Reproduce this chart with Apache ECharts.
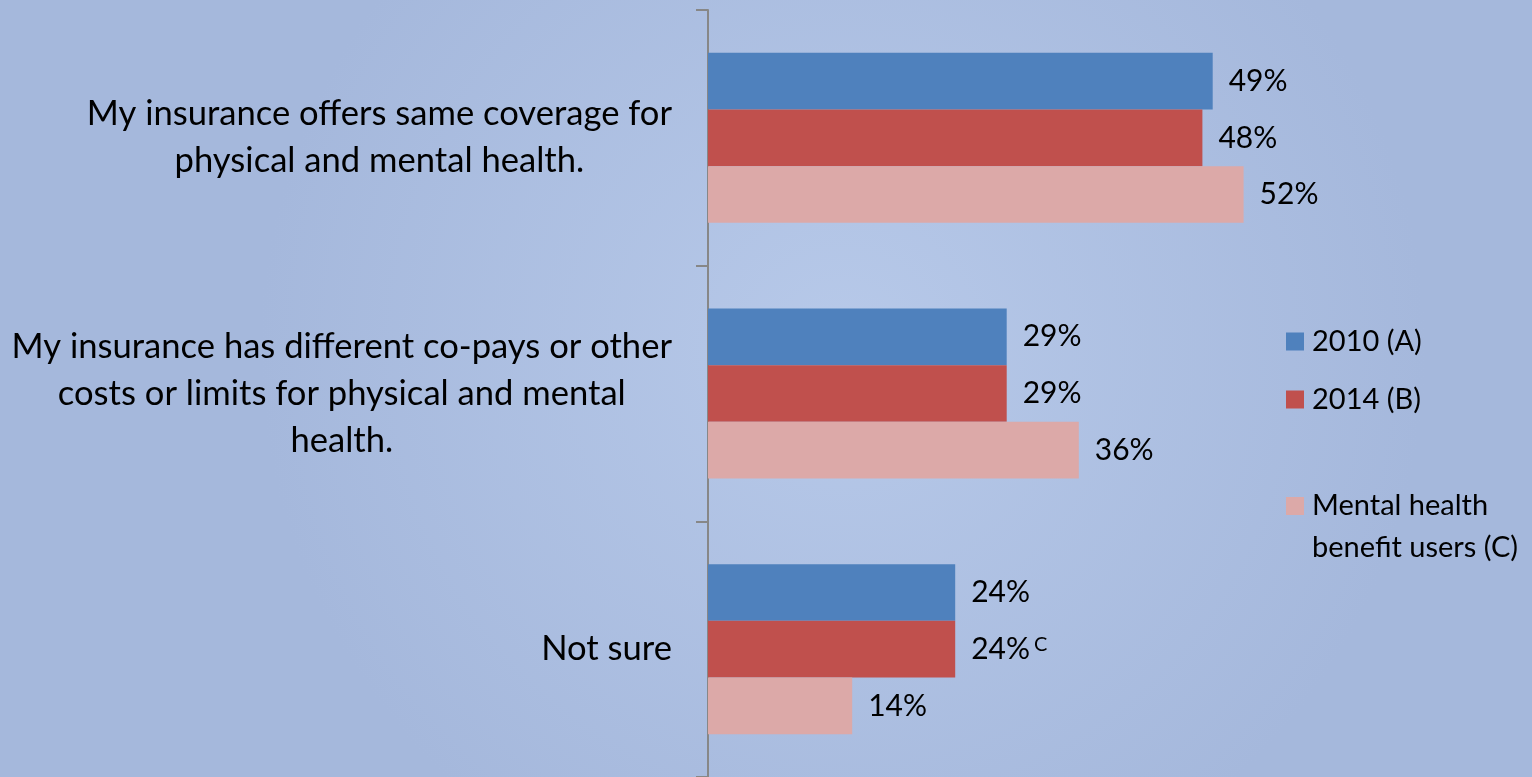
<!DOCTYPE html>
<html>
<head>
<meta charset="utf-8">
<script src="https://cdn.jsdelivr.net/npm/echarts@6/dist/echarts.min.js"></script>
<style>
html,body{margin:0;padding:0;width:1532px;height:777px;overflow:hidden;}
#chart{width:1532px;height:777px;}
</style>
</head>
<body>
<div id="chart"></div>
<script>
var categories = [
  'My insurance offers same coverage for\nphysical and mental health.',
  'My insurance has different co-pays or other\ncosts or limits for physical and mental\nhealth.',
  'Not sure'
];
var seriesNames = ['2010 (A)', '2014 (B)', 'Mental health benefit users (C)'];
var legendLabels = ['2010 (A)', '2014 (B)', '\nMental health\nbenefit users (C)'];
var values2010 = [49, 29, 24];
var values2014 = [48, 29, 24];
var valuesUsers = [52, 36, 14];
var sigMarks2014 = ['', '', 'C'];
var colors = ['#4f81bd', '#c0504d', '#dca9a8'];

var FONT = 'Lato, "Open Sans", sans-serif';

function catFormatter(v) {
  return v.split('\n').map(function (l) { return '{c|' + l + '}'; }).join('\n');
}

var labelBase = {
  show: true,
  position: 'right',
  distance: 16,
  fontFamily: FONT,
  fontSize: 30,
  color: '#000'
};

var chart = echarts.init(document.getElementById('chart'));
chart.setOption({
  backgroundColor: {
    type: 'radial', x: 0.55, y: 0.45, r: 0.75,
    colorStops: [
      { offset: 0, color: '#b7c9e9' },
      { offset: 1, color: '#a5b8dc' }
    ]
  },
  animation: false,
  grid: { left: 708, right: 206, top: 10, bottom: -4, containLabel: false },
  xAxis: { type: 'value', min: 0, max: 60, show: false },
  yAxis: {
    type: 'category',
    inverse: true,
    data: categories,
    axisLine: { show: true, lineStyle: { color: '#878787', width: 2 } },
    axisTick: { show: true, length: 12, lineStyle: { color: '#878787', width: 2 } },
    axisLabel: {
      margin: 36,
      formatter: catFormatter,
      color: '#000',
      fontFamily: FONT,
      fontSize: 34.6,
      lineHeight: 47,
      rich: { c: { align: 'center', fontFamily: FONT, fontSize: 34.6, lineHeight: 47, color: '#000' } }
    },
    splitLine: { show: false }
  },
  legend: {
    orient: 'vertical',
    left: 1286,
    top: 327,
    padding: 0,
    itemWidth: 18,
    itemHeight: 18,
    itemGap: 29,
    icon: 'rect',
    formatter: function (name) { return legendLabels[seriesNames.indexOf(name)]; },
    textStyle: { fontFamily: FONT, fontSize: 29, color: '#000', lineHeight: 19, padding: [0, 0, 0, 3] },
    data: [
      { name: seriesNames[0] },
      { name: seriesNames[1] },
      { name: seriesNames[2], textStyle: { fontFamily: FONT, fontSize: 29, color: '#000', lineHeight: 42, padding: [0, 0, 0, 3] } }
    ]
  },
  series: [
    {
      name: seriesNames[0], type: 'bar', data: values2010,
      barGap: '0%', barCategoryGap: '33.5%',
      itemStyle: { color: colors[0] },
      label: Object.assign({}, labelBase, { formatter: '{c}%' })
    },
    {
      name: seriesNames[1], type: 'bar', data: values2014,
      itemStyle: { color: colors[1] },
      label: Object.assign({}, labelBase, {
        formatter: function (p) {
          var s = sigMarks2014[p.dataIndex];
          return '{v|' + p.value + '%}' + (s ? '{s|' + s + '}' : '');
        },
        rich: {
          v: { fontFamily: FONT, fontSize: 30, color: '#000', lineHeight: 34 },
          s: { fontFamily: FONT, fontSize: 20, color: '#000', lineHeight: 34, verticalAlign: 'top', padding: [2, 0, 0, 4] }
        }
      })
    },
    {
      name: seriesNames[2], type: 'bar', data: valuesUsers,
      itemStyle: { color: colors[2] },
      label: Object.assign({}, labelBase, { formatter: '{c}%' })
    }
  ]
});
</script>
</body>
</html>
